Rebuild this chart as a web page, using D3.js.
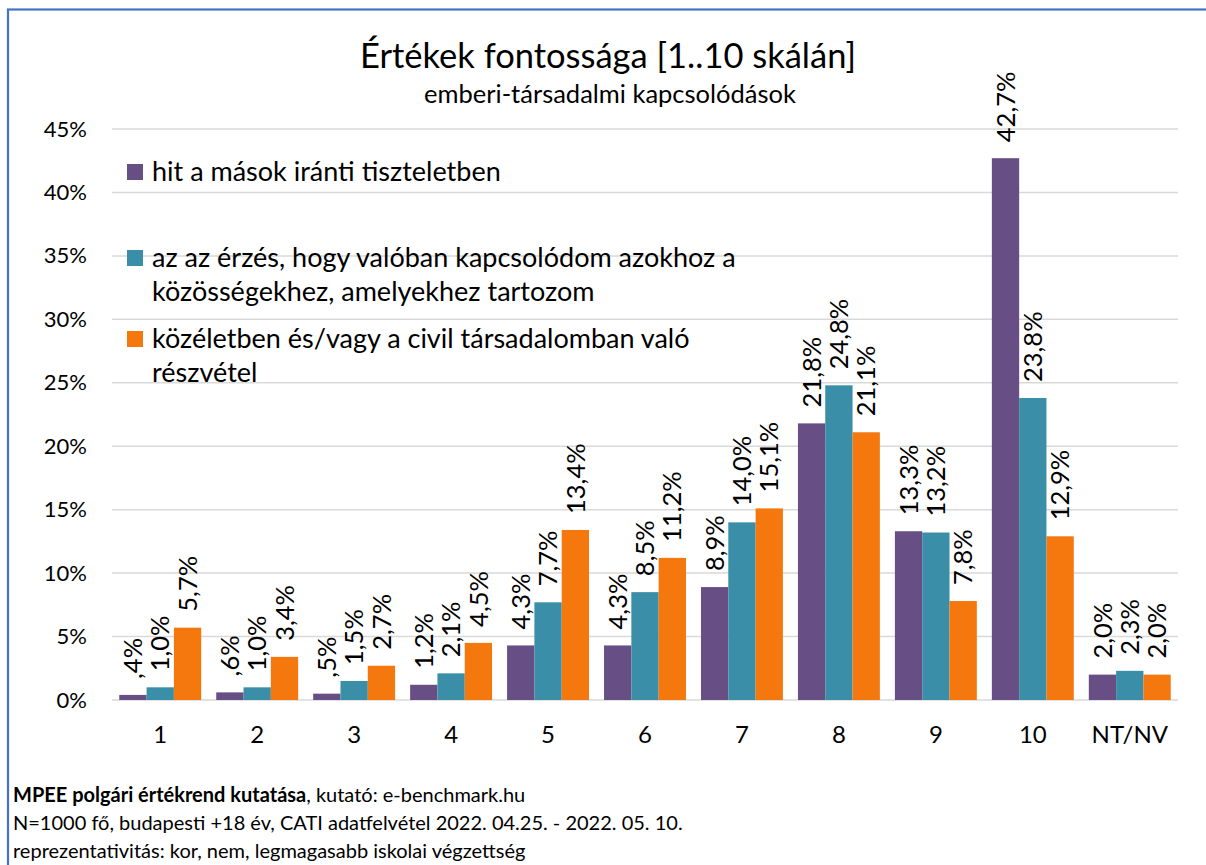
<!DOCTYPE html>
<html>
<head>
<meta charset="utf-8">
<script src="https://cdn.jsdelivr.net/npm/d3@7"></script>
<style>
  body { margin: 0; background: #fff; }
  svg text { font-family: Lato, "Noto Sans", sans-serif; fill: #000; }
</style>
</head>
<body>
<div id="chart"></div>
<script>
// categories and series (percent)
const categories = ['1', '2', '3', '4', '5', '6', '7', '8', '9', '10', 'NT/NV'];
const respect = [0.4, 0.6, 0.5, 1.2, 4.3, 4.3, 8.9, 21.8, 13.3, 42.7, 2.0];
const belonging = [1.0, 1.0, 1.5, 2.1, 7.7, 8.5, 14.0, 24.8, 13.2, 23.8, 2.3];
const civic = [5.7, 3.4, 2.7, 4.5, 13.4, 11.2, 15.1, 21.1, 7.8, 12.9, 2.0];
const yTicks = [0, 5, 10, 15, 20, 25, 30, 35, 40, 45];
const colors = ['#674f86', '#3a8ea7', '#f4780e'];

// legend labels, already split into lines
const legendLines = [
  ['hit a mások iránti tiszteletben'],
  ['az az érzés, hogy valóban kapcsolódom azokhoz a', 'közösségekhez, amelyekhez tartozom'],
  ['közéletben és/vagy a civil társadalomban való', 'részvétel']
];

const width = 1206, height = 865;
const plot = { left: 112, right: 1178, top: 129, bottom: 700 };

const svg = d3.select('#chart').append('svg')
  .attr('width', width).attr('height', height);

// outer frame (right and bottom edges fall outside the picture)
svg.append('rect')
  .attr('x', 8).attr('y', 9.5)
  .attr('width', width + 20).attr('height', height + 20)
  .attr('fill', 'none').attr('stroke', '#4472c4').attr('stroke-width', 2.2);

const x = d3.scaleBand().domain(categories)
  .range([plot.left, plot.right]).paddingInner(0.155).paddingOuter(0.075);
const xInner = d3.scaleBand().domain([0, 1, 2]).range([0, x.bandwidth()]);
const y = d3.scaleLinear().domain([0, 45]).range([plot.bottom, plot.top]);

// gridlines
svg.append('g').selectAll('line').data(yTicks).join('line')
  .attr('x1', plot.left).attr('x2', plot.right)
  .attr('y1', d => y(d)).attr('y2', d => y(d))
  .attr('stroke', '#d9d9d9').attr('stroke-width', 1.5);

// y axis labels
const yAxis = d3.axisLeft(y).tickValues(yTicks).tickFormat(d => d + '%').tickSize(0).tickPadding(0);
const gy = svg.append('g').attr('transform', 'translate(87,0)').call(yAxis);
gy.select('.domain').remove();
gy.selectAll('text').attr('font-size', 22).attr('font-family', 'Lato, sans-serif').attr('fill', '#000');

// x axis labels
const xAxis = d3.axisBottom(x).tickSize(0).tickPadding(0);
const gx = svg.append('g').attr('transform', `translate(0,${plot.bottom + 26})`).call(xAxis);
gx.select('.domain').remove();
gx.selectAll('text').attr('font-size', 24).attr('font-family', 'Lato, sans-serif').attr('fill', '#000');

// bars + rotated value labels
const allSeries = [respect, belonging, civic];
const fmt = v => (v < 1 ? d3.format('.1f')(v).replace(/^0/, '') : d3.format('.1f')(v)).replace('.', ',') + '%';

allSeries.forEach((vals, si) => {
  const g = svg.append('g');
  g.selectAll('rect').data(vals).join('rect')
    .attr('x', (d, i) => x(categories[i]) + xInner(si))
    .attr('y', d => y(d))
    .attr('width', xInner.bandwidth())
    .attr('height', d => y(0) - y(d))
    .attr('fill', colors[si]);
  g.selectAll('text').data(vals).join('text')
    .attr('transform', (d, i) => {
      const cx = x(categories[i]) + xInner(si) + xInner.bandwidth() / 2;
      return `translate(${cx},${y(d) - 16}) rotate(-90)`;
    })
    .attr('dy', '0.36em')
    .attr('font-size', 25.5)
    .text(d => fmt(d));
});

// title
svg.append('text').attr('x', 608).attr('y', 68).attr('text-anchor', 'middle')
  .attr('font-size', 34.5).text('Értékek fontossága [1..10 skálán]');
svg.append('text').attr('x', 610).attr('y', 103).attr('text-anchor', 'middle')
  .attr('font-size', 25.5).text('emberi-társadalmi kapcsolódások');

// legend
const legendY = [172, 258, 339];
legendLines.forEach((lines, i) => {
  svg.append('rect').attr('x', 127).attr('y', legendY[i] - 8)
    .attr('width', 16).attr('height', 16).attr('fill', colors[i]);
  lines.forEach((t, j) => {
    svg.append('text').attr('x', 152).attr('y', legendY[i] + j * 34)
      .attr('dy', '0.35em').attr('font-size', 27).text(t);
  });
});

// footer
const footer = svg.append('g').attr('font-size', 20);
const f1 = footer.append('text').attr('x', 13).attr('y', 802);
f1.append('tspan').attr('font-weight', 'bold').text('MPEE polgári értékrend kutatása');
f1.append('tspan').text(', kutató: e-benchmark.hu');
footer.append('text').attr('x', 13).attr('y', 830)
  .text('N=1000 fő, budapesti +18 év, CATI adatfelvétel 2022. 04.25. - 2022. 05. 10.');
footer.append('text').attr('x', 13).attr('y', 858)
  .text('reprezentativitás: kor, nem, legmagasabb iskolai végzettség');
</script>
</body>
</html>
